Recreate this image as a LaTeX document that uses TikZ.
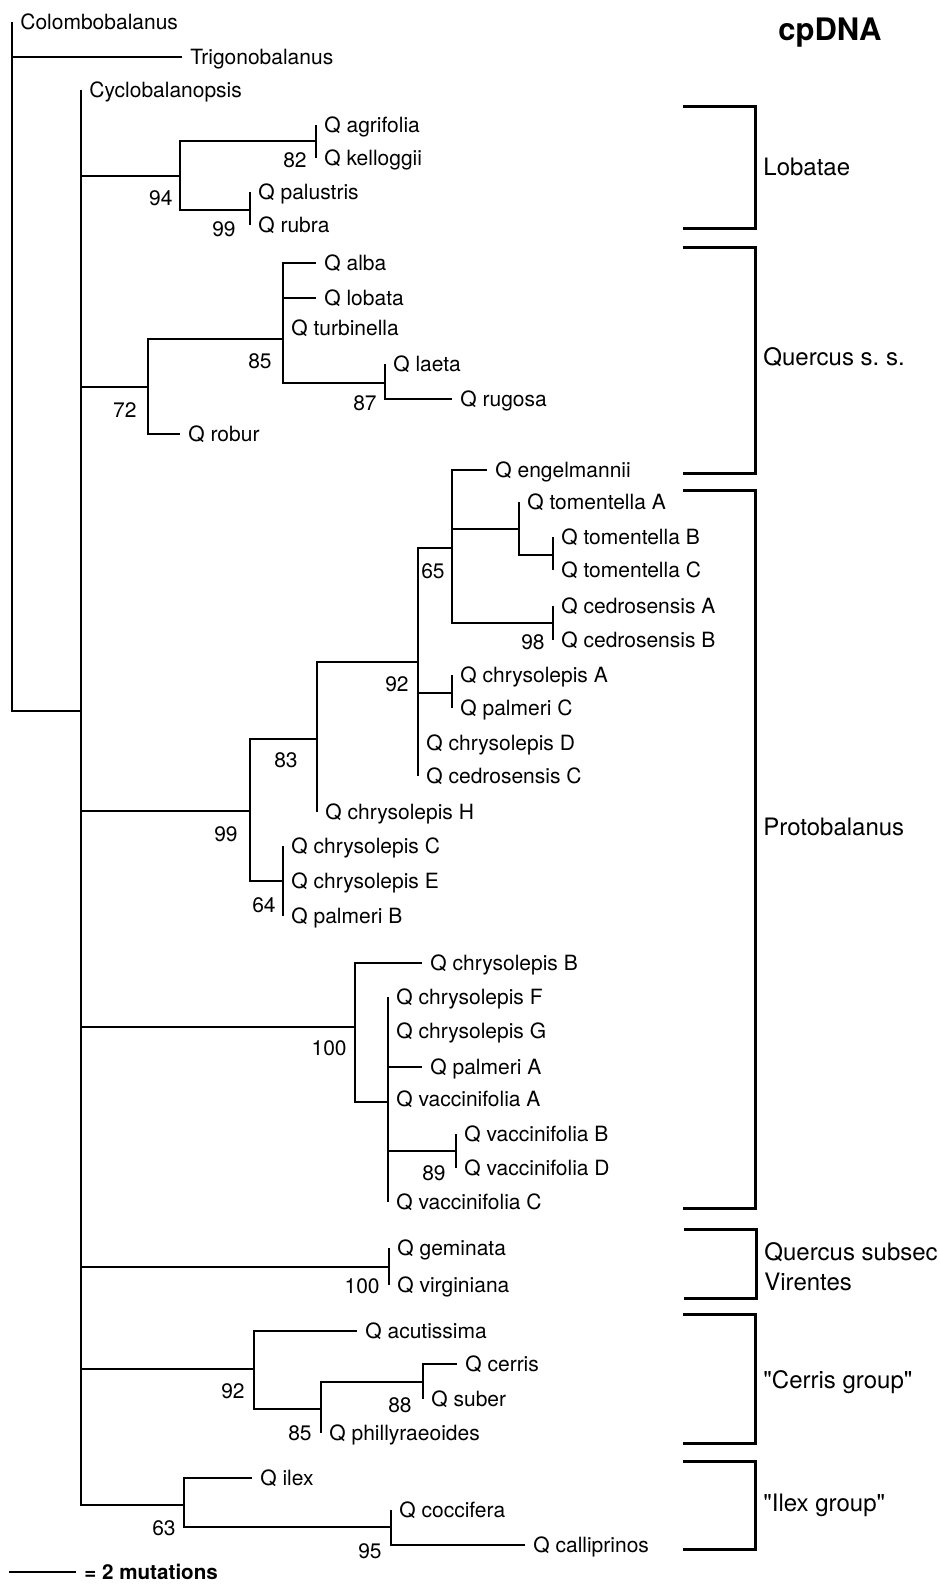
\documentclass[tikz,border=0pt]{standalone}
\usepackage{fontspec}
\setmainfont{TeX Gyre Heros}[Ligatures=TeXOff]

\begin{document}
\begin{tikzpicture}[x=0.5pt, y=-0.5pt,
    branch/.style={line width=0.8pt},
    leaf/.style={anchor=west, inner xsep=4pt, inner ysep=0pt, text height=7.5pt, text depth=0pt, font=\fontsize{10.5}{12}\selectfont},
    boot/.style={anchor=east, inner sep=0pt, text height=7.5pt, text depth=0pt, font=\fontsize{10.5}{12}\selectfont},
    bracket/.style={line width=1.5pt},
    group/.style={anchor=west, inner xsep=4pt, inner ysep=0pt, text height=8.6pt, text depth=0pt, font=\fontsize{12}{15}\selectfont}]

    \useasboundingbox (0,0) rectangle (939,1584);

    \node (title) at (830,33) [font=\fontsize{15.5}{18}\selectfont\bfseries] {cpDNA};

    \coordinate (root) at (12,711);
    \coordinate (ing) at (81,711);
    \node (colo) at (12,22) [leaf] {Colombobalanus};
    \node (trig) at (182,57) [leaf] {Trigonobalanus};
    \node (cyclo) at (81,90) [leaf] {Cyclobalanopsis};
    \draw[branch] (colo.west) -- (root) -- (ing);
    \draw[branch] (root) |- (trig.west);
    \draw[branch] (ing) |- (cyclo.west);

    \coordinate (n94) at (180,176);
    \coordinate (n82) at (316,141);
    \coordinate (n99a) at (250,210);
    \node (agri) at (316,125) [leaf] {Q agrifolia};
    \node (kell) at (316,158) [leaf] {Q kelloggii};
    \node (palu) at (250,192) [leaf] {Q palustris};
    \node (rubr) at (250,225) [leaf] {Q rubra};
    \draw[branch] (ing) |- (n94);
    \draw[branch] (n94) |- (n82);
    \draw[branch] (n94) |- (n99a);
    \draw[branch] (agri.west) -- (kell.west);
    \draw[branch] (palu.west) -- (rubr.west);
    \node (b82) at (307,160) [boot] {82};
    \node (b94) at (173,198) [boot] {94};
    \node (b99a) at (236,229) [boot] {99};

    \coordinate (n72) at (148,387);
    \coordinate (n85a) at (283,339);
    \coordinate (n87) at (385,383);
    \node (alba) at (316,263) [leaf] {Q alba};
    \node (loba) at (316,298) [leaf] {Q lobata};
    \node (turb) at (283,328) [leaf] {Q turbinella};
    \node (laet) at (385,364) [leaf] {Q laeta};
    \node (rugo) at (452,399) [leaf] {Q rugosa};
    \node (robu) at (180,434) [leaf] {Q robur};
    \draw[branch] (ing) |- (n72);
    \draw[branch] (n72) |- (n85a);
    \draw[branch] (n72) |- (robu.west);
    \draw[branch] (n85a) |- (alba.west);
    \draw[branch] (n85a) |- (loba.west);
    \draw[branch] (n85a) |- (n87);
    \draw[branch] (n87) |- (laet.west);
    \draw[branch] (n87) |- (rugo.west);
    \node (b72) at (137,410) [boot] {72};
    \node (b85a) at (272,361) [boot] {85};
    \node (b87) at (377,403) [boot] {87};

    \coordinate (n99b) at (250,811);
    \coordinate (n83) at (317,739);
    \coordinate (n92a) at (418,662);
    \coordinate (n65) at (452,548);
    \coordinate (ntom) at (519,529);
    \coordinate (ntbc) at (553,555);
    \coordinate (n98) at (553,623);
    \coordinate (ncpa) at (452,693);
    \coordinate (n64) at (283,881);
    \node (engl) at (487,470) [leaf] {Q engelmannii};
    \node (tomA) at (519,502) [leaf] {Q tomentella A};
    \node (tomB) at (553,537) [leaf] {Q tomentella B};
    \node (tomC) at (553,570) [leaf] {Q tomentella C};
    \node (cedA) at (553,606) [leaf] {Q cedrosensis A};
    \node (cedB) at (553,640) [leaf] {Q cedrosensis B};
    \node (chrA) at (452,675) [leaf] {Q chrysolepis A};
    \node (palC) at (452,708) [leaf] {Q palmeri C};
    \node (chrD) at (418,743) [leaf] {Q chrysolepis D};
    \node (cedC) at (418,776) [leaf] {Q cedrosensis C};
    \node (chrH) at (317,812) [leaf] {Q chrysolepis H};
    \node (chrC) at (283,846) [leaf] {Q chrysolepis C};
    \node (chrE) at (283,881) [leaf] {Q chrysolepis E};
    \node (palB) at (283,916) [leaf] {Q palmeri B};
    \draw[branch] (ing) |- (n99b);
    \draw[branch] (n99b) |- (n83);
    \draw[branch] (n99b) |- (n64);
    \draw[branch] (n83) |- (n92a);
    \draw[branch] (n83) |- (chrH.west);
    \draw[branch] (n92a) |- (n65);
    \draw[branch] (n92a) |- (ncpa);
    \draw[branch] (n92a) |- (cedC.west);
    \draw[branch] (n65) |- (engl.west);
    \draw[branch] (n65) |- (ntom);
    \draw[branch] (n65) |- (n98);
    \draw[branch] (ntom) |- (tomA.west);
    \draw[branch] (ntom) |- (ntbc);
    \draw[branch] (tomB.west) -- (tomC.west);
    \draw[branch] (cedA.west) -- (cedB.west);
    \draw[branch] (chrA.west) -- (palC.west);
    \draw[branch] (chrC.west) -- (palB.west);
    \node (b65) at (445,571) [boot] {65};
    \node (b98) at (545,642) [boot] {98};
    \node (b92a) at (409,684) [boot] {92};
    \node (b83) at (298,760) [boot] {83};
    \node (b99b) at (238,834) [boot] {99};
    \node (b64) at (276,905) [boot] {64};

    \coordinate (n100a) at (355,1027);
    \coordinate (nvac) at (388,1102);
    \coordinate (n89) at (456,1151);
    \node (chrB) at (422,963) [leaf] {Q chrysolepis B};
    \node (chrF) at (388,997) [leaf] {Q chrysolepis F};
    \node (chrG) at (388,1031) [leaf] {Q chrysolepis G};
    \node (palA) at (422,1067) [leaf] {Q palmeri A};
    \node (vacA) at (388,1099) [leaf] {Q vaccinifolia A};
    \node (vacB) at (456,1134) [leaf] {Q vaccinifolia B};
    \node (vacD) at (456,1168) [leaf] {Q vaccinifolia D};
    \node (vacC) at (388,1202) [leaf] {Q vaccinifolia C};
    \draw[branch] (ing) |- (n100a);
    \draw[branch] (n100a) |- (chrB.west);
    \draw[branch] (n100a) |- (nvac);
    \draw[branch] (nvac) |- (chrF.west);
    \draw[branch] (nvac) |- (palA.west);
    \draw[branch] (nvac) |- (n89);
    \draw[branch] (nvac) |- (vacC.west);
    \draw[branch] (vacB.west) -- (vacD.west);
    \node (b100a) at (347,1048) [boot] {100};
    \node (b89) at (446,1173) [boot] {89};

    \coordinate (n100b) at (389,1267);
    \node (gemi) at (389,1248) [leaf] {Q geminata};
    \node (virg) at (389,1285) [leaf] {Q virginiana};
    \draw[branch] (ing) |- (n100b);
    \draw[branch] (gemi.west) -- (virg.west);
    \node (b100b) at (380,1286) [boot] {100};

    \coordinate (n92b) at (254,1369);
    \coordinate (n85b) at (321,1409);
    \coordinate (n88) at (423,1382);
    \node (acut) at (357,1331) [leaf] {Q acutissima};
    \node (cerr) at (457,1364) [leaf] {Q cerris};
    \node (sube) at (423,1399) [leaf] {Q suber};
    \node (phil) at (321,1433) [leaf] {Q phillyraeoides};
    \draw[branch] (ing) |- (n92b);
    \draw[branch] (n92b) |- (acut.west);
    \draw[branch] (n92b) |- (n85b);
    \draw[branch] (n85b) |- (n88);
    \draw[branch] (n85b) |- (phil.west);
    \draw[branch] (n88) |- (cerr.west);
    \draw[branch] (n88) |- (sube.west);
    \node (b92b) at (245,1391) [boot] {92};
    \node (b88) at (412,1405) [boot] {88};
    \node (b85b) at (312,1433) [boot] {85};

    \coordinate (n63) at (184,1505);
    \coordinate (n95) at (391,1527);
    \node (ilex) at (252,1478) [leaf] {Q ilex};
    \node (cocc) at (391,1510) [leaf] {Q coccifera};
    \node (call) at (525,1545) [leaf] {Q calliprinos};
    \draw[branch] (ing) |- (n63);
    \draw[branch] (n63) |- (ilex.west);
    \draw[branch] (n63) |- (n95);
    \draw[branch] (n95) |- (cocc.west);
    \draw[branch] (n95) |- (call.west);
    \node (b63) at (176,1528) [boot] {63};
    \node (b95) at (382,1551) [boot] {95};

    \coordinate (sbar) at (9,1572);
    \node (sbtxt) at (76,1572) [leaf, text height=7.2pt, font=\fontsize{10.3}{12}\selectfont\bfseries] {= 2 mutations};
    \draw[branch] (sbar) -- (sbtxt.west);

    \foreach \g/\top/\bot/\mid/\txt in {lob/107/228/167/Lobatae, qss/247/473/357/Quercus s.\ s., pro/490/1208/827/Protobalanus, cer/1314/1443/1380/"Cerris group", ilx/1461/1549/1503/"Ilex group"}
    {
        \coordinate (\g-t) at (683,\top);
        \coordinate (\g-b) at (683,\bot);
        \node (\g) at (755,\mid) [group] {\txt};
        \draw[bracket] (\g-t) -| (\g.west) |- (\g-b);
    }

    \coordinate (vir-t) at (684,1229);
    \coordinate (vir-b) at (684,1298);
    \node (vir) at (756,1267) [anchor=west, inner xsep=4pt, inner ysep=0pt, align=left, font=\fontsize{12}{15}\selectfont] {Quercus subsec\\Virentes};
    \draw[bracket] (vir-t) -| (vir.west) |- (vir-b);
\end{tikzpicture}
\end{document}
